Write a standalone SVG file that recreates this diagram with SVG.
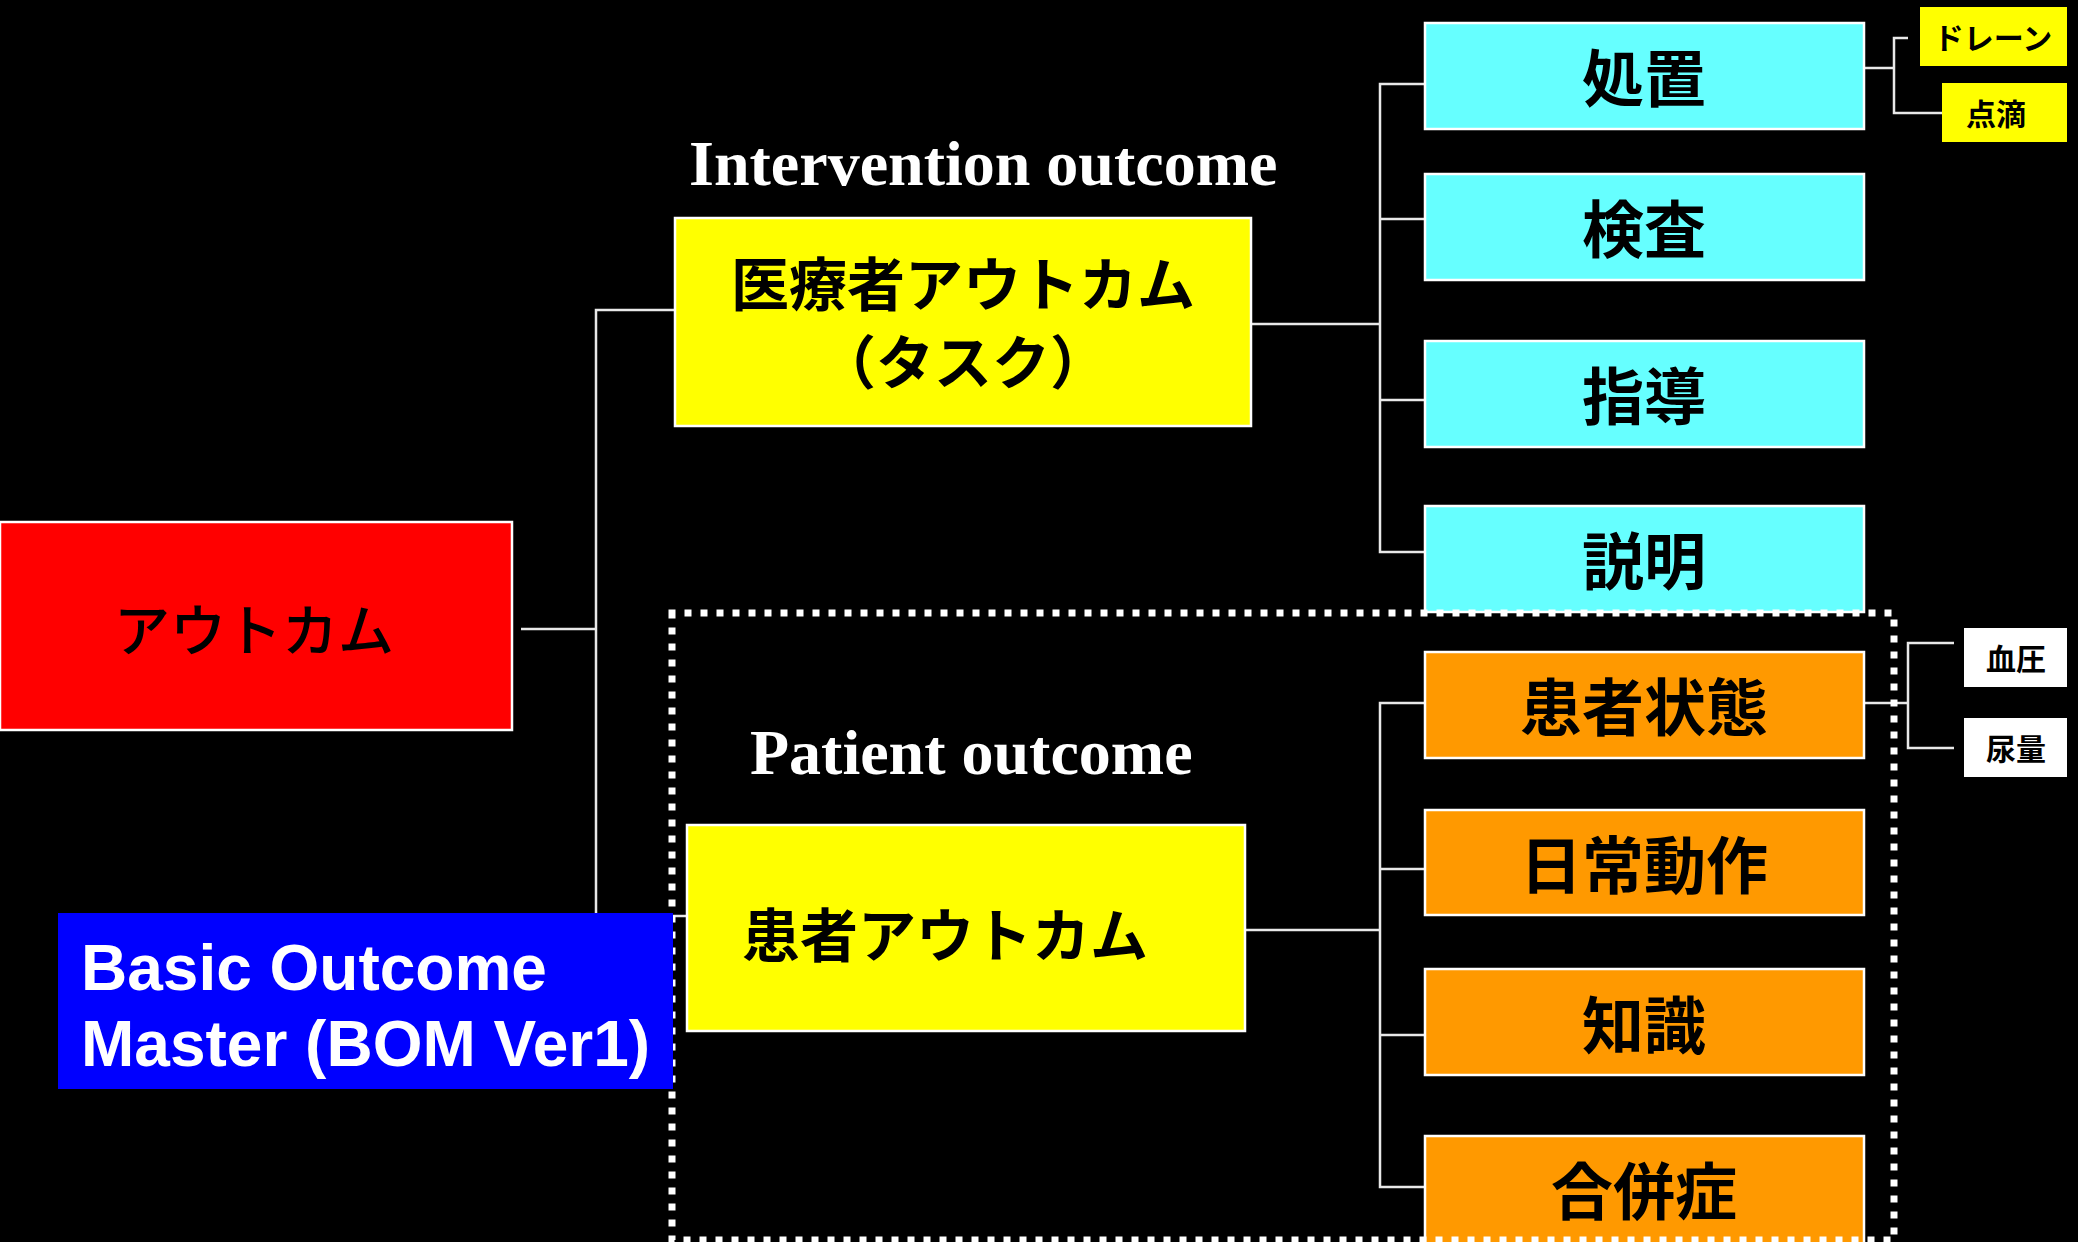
<svg xmlns="http://www.w3.org/2000/svg" width="2078" height="1242" viewBox="0 0 2078 1242">
  <style>
    .conn { fill: none; stroke: #e8e8e8; stroke-width: 2.5; }
    .box { stroke: #ffffff; stroke-width: 2.5; }
    .red { fill: #ff0000; }
    .yellow { fill: #ffff00; }
    .cyan { fill: #66ffff; }
    .orange { fill: #ff9900; }
    .tag-y { fill: #ffff00; }
    .tag-w { fill: #ffffff; }
    .jp { font-family: 'Noto Sans CJK JP', 'Noto Sans CJK SC', sans-serif; fill: #000000; text-anchor: middle; dominant-baseline: central; }
    .big { font-size: 62px; font-weight: 700; }
    .mid { font-size: 58px; font-weight: 700; }
    .small { font-size: 30px; font-weight: 700; }
    .title { font-family: 'Liberation Serif', 'Times New Roman', serif; font-weight: 700; font-size: 64px; fill: #ffffff; }
    .bom { font-family: 'Liberation Sans', Arial, sans-serif; font-weight: 700; font-size: 64px; fill: #ffffff; }
  </style>

  <rect x="0" y="0" width="2078" height="1242" fill="#000000"/>

  <!-- tree connectors -->
  <g id="connectors">
    <!-- root to the two outcome groups -->
    <path class="conn" d="M521 629 H596 M674 310 H596 V916 H686"/>
    <!-- intervention outcome to its tasks -->
    <path class="conn" d="M1252 324 H1380 M1424 84 H1380 V552 H1424 M1380 219 H1424 M1380 400 H1424"/>
    <!-- patient outcome to its items -->
    <path class="conn" d="M1246 930 H1380 M1424 703 H1380 V1187 H1424 M1380 869 H1424 M1380 1035 H1424"/>
    <!-- 処置 sub-items -->
    <path class="conn" d="M1864 68 H1894 M1908 38 H1894 V113 H1942"/>
    <!-- 患者状態 sub-items -->
    <path class="conn" d="M1864 703 H1908 M1954 643 H1908 V748 H1954"/>
  </g>

  <g id="node-outcome">
    <rect class="box red" x="0" y="522" width="512" height="208"/>
    <text class="jp" x="254" y="626" font-size="56" font-weight="500">アウトカム</text>
  </g>

  <g id="node-staff-outcome">
    <rect class="box yellow" x="675" y="218" width="576" height="208"/>
    <text class="jp mid" x="963" y="281">医療者アウトカム</text>
    <text class="jp mid" x="963" y="359">（タスク）</text>
  </g>

  <g id="node-patient-outcome">
    <rect class="box yellow" x="687" y="825" width="558" height="206"/>
    <text class="jp mid" x="945" y="932">患者アウトカム</text>
  </g>

  <g id="node-shochi">
    <rect class="box cyan" x="1425" y="23" width="439" height="106"/>
    <text class="jp big" x="1644" y="75">処置</text>
  </g>
  <g id="node-kensa">
    <rect class="box cyan" x="1425" y="174" width="439" height="106"/>
    <text class="jp big" x="1644" y="226">検査</text>
  </g>
  <g id="node-shido">
    <rect class="box cyan" x="1425" y="341" width="439" height="106"/>
    <text class="jp big" x="1644" y="393">指導</text>
  </g>
  <g id="node-setsumei">
    <rect class="box cyan" x="1425" y="506" width="439" height="106"/>
    <text class="jp big" x="1644" y="558">説明</text>
  </g>

  <g id="node-kanja-jotai">
    <rect class="box orange" x="1425" y="652" width="439" height="106"/>
    <text class="jp big" x="1644" y="704">患者状態</text>
  </g>
  <g id="node-nichijo-dosa">
    <rect class="box orange" x="1425" y="810" width="439" height="105"/>
    <text class="jp big" x="1644" y="862">日常動作</text>
  </g>
  <g id="node-chishiki">
    <rect class="box orange" x="1425" y="969" width="439" height="106"/>
    <text class="jp big" x="1644" y="1022">知識</text>
  </g>
  <g id="node-gappeisho">
    <rect class="box orange" x="1425" y="1136" width="439" height="110"/>
    <text class="jp big" x="1644" y="1188">合併症</text>
  </g>

  <g id="node-drain">
    <rect class="tag-y" x="1920" y="7" width="147" height="59"/>
    <text class="jp small" x="1993" y="36">ドレーン</text>
  </g>
  <g id="node-tenteki">
    <rect class="tag-y" x="1942" y="83" width="125" height="59"/>
    <text class="jp small" x="1996" y="112">点滴</text>
  </g>
  <g id="node-ketsuatsu">
    <rect class="tag-w" x="1964" y="628" width="103" height="59"/>
    <text class="jp small" x="2016" y="657">血圧</text>
  </g>
  <g id="node-nyoryo">
    <rect class="tag-w" x="1964" y="718" width="103" height="59"/>
    <text class="jp small" x="2016" y="747">尿量</text>
  </g>

  <!-- dotted frame around the patient-outcome group -->
  <rect id="patient-frame" x="672" y="613" width="1222" height="627" fill="none" stroke="#ffffff" stroke-width="7" stroke-dasharray="7 9" stroke-dashoffset="3.5"/>

  <g id="node-bom">
    <rect x="58" y="913" width="615" height="176" fill="#0000ff"/>
    <text class="bom" x="81" y="990">Basic Outcome</text>
    <text class="bom" x="81" y="1066">Master (BOM Ver1)</text>
  </g>

  <g id="labels">
    <text class="title" x="689" y="185">Intervention outcome</text>
    <text class="title" x="750" y="774">Patient outcome</text>
  </g>
</svg>
